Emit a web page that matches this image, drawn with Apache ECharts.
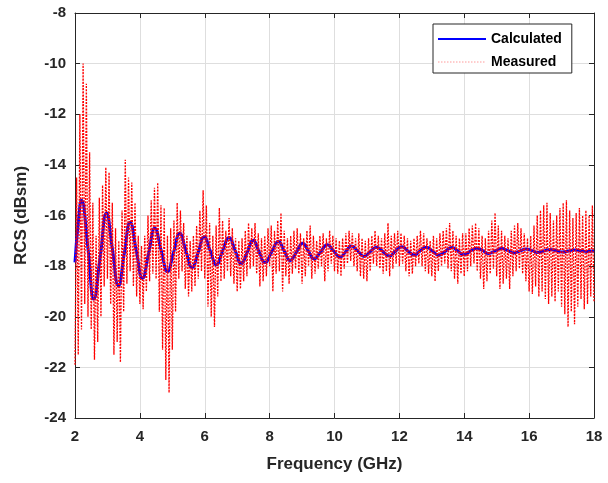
<!DOCTYPE html>
<html>
<head>
<meta charset="utf-8">
<script src="https://cdn.jsdelivr.net/npm/echarts@6/dist/echarts.min.js"></script>
<style>
html,body{margin:0;padding:0;background:#fff;}
#c{width:608px;height:483px;}
</style>
</head>
<body>
<div id="c"></div>
<script>
// Frequency ticks (GHz) and RCS ticks (dBsm)
var xTicks = [2, 4, 6, 8, 10, 12, 14, 16, 18];
var yTicks = [-24, -22, -20, -18, -16, -14, -12, -10, -8];

// Calculated curve: [frequency GHz, RCS dBsm] read at peaks, troughs and mid-slopes
var calcFreq = [2.00, 2.10, 2.20, 2.40, 2.58, 2.78, 2.97, 3.15, 3.34, 3.52, 3.70, 3.89, 4.08, 4.27, 4.46, 4.66, 4.85, 5.04, 5.23, 5.42, 5.61, 5.80, 5.98, 6.17, 6.36, 6.55, 6.75, 6.94, 7.13, 7.31, 7.49, 7.67, 7.86, 8.06, 8.27, 8.45, 8.63, 8.83, 9.02, 9.20, 9.37, 9.57, 9.78, 9.97, 10.17, 10.35, 10.53, 10.72, 10.91, 11.10, 11.30, 11.50, 11.69, 11.88, 12.07, 12.26, 12.45, 12.64, 12.83, 13.03, 13.22, 13.42, 13.62, 13.80, 13.98, 14.18, 14.39, 14.57, 14.75, 14.95, 15.16, 15.35, 15.53, 15.72, 15.90, 16.09, 16.27, 16.46, 16.65, 16.84, 17.03, 17.22, 17.40, 17.59, 17.78, 18.00];
var calcRcs = [-17.85, -16.3, -15.4, -17.3, -19.3, -17.6, -15.9, -17.3, -18.78, -17.5, -16.27, -17.4, -18.48, -17.5, -16.5, -17.4, -18.22, -17.45, -16.7, -17.4, -18.06, -17.45, -16.84, -17.4, -17.95, -17.4, -16.87, -17.4, -17.9, -17.45, -16.98, -17.42, -17.86, -17.45, -17.03, -17.4, -17.78, -17.44, -17.1, -17.42, -17.72, -17.44, -17.16, -17.4, -17.64, -17.42, -17.2, -17.41, -17.62, -17.43, -17.25, -17.43, -17.6, -17.41, -17.23, -17.4, -17.56, -17.4, -17.25, -17.42, -17.57, -17.41, -17.26, -17.4, -17.55, -17.42, -17.29, -17.39, -17.5, -17.4, -17.3, -17.39, -17.48, -17.4, -17.32, -17.39, -17.46, -17.4, -17.34, -17.39, -17.44, -17.4, -17.36, -17.39, -17.42, -17.39];

// Measured curve: sampled every 0.05 GHz from 2.00 GHz
var measStart = 2.0;
var measStep = 0.05;
var measRcs = [
 -21.9, -14.5, -21.5, -12.0, -20.5, -10.0, -19.5, -10.8, -20.0, -13.5, -20.5, -15.5, -21.7, -16.8, -21.0, -15.3, -20.0, -14.8, -18.8, -14.1,
 -18.5, -14.3, -19.5, -15.5, -21.5, -16.5, -21.0, -17.0, -21.8, -15.8, -19.8, -13.8, -18.7, -14.5, -18.2, -14.7, -18.8, -15.5, -19.2, -16.8,
 -19.5, -17.2, -19.7, -16.8, -19.0, -16.0, -18.6, -15.4, -18.3, -14.9, -18.5, -14.7, -19.8, -15.6, -21.3, -15.7, -22.5, -16.8, -23.0, -16.5,
 -21.3, -16.2, -19.8, -15.5, -18.5, -15.8, -18.2, -16.3, -18.9, -16.8, -19.2, -17.0, -19.0, -16.8, -18.8, -16.4, -18.5, -15.8, -18.2, -15.0,
 -18.5, -15.6, -19.6, -16.3, -20.0, -16.8, -20.4, -16.4, -19.2, -15.7, -18.6, -16.2, -18.5, -16.6, -18.2, -16.1, -18.4, -16.5, -18.7, -16.9,
 -19.0, -17.0, -18.9, -16.9, -18.6, -16.6, -18.4, -16.3, -18.1, -16.5, -18.0, -16.3, -18.3, -16.7, -18.8, -16.9, -18.6, -16.8, -18.4, -16.5,
 -18.0, -16.4, -19.0, -16.6, -18.3, -16.2, -18.2, -15.9, -19.0, -16.6, -18.4, -16.9, -18.7, -16.8, -18.3, -16.6, -18.1, -16.5, -18.3, -16.7,
 -18.7, -16.9, -18.4, -16.6, -18.0, -16.4, -18.5, -16.8, -18.3, -17.0, -18.1, -16.8, -18.0, -16.7, -18.6, -16.9, -18.2, -16.6, -17.9, -16.8,
 -18.2, -16.9, -18.3, -17.0, -18.4, -16.9, -18.1, -16.7, -17.9, -16.6, -17.8, -16.7, -18.0, -16.9, -18.2, -16.7, -18.4, -16.9, -18.5, -17.0,
 -18.6, -16.9, -18.2, -16.8, -17.9, -16.6, -18.0, -16.8, -18.1, -16.9, -18.3, -16.7, -18.2, -16.3, -18.4, -16.8, -18.1, -16.7, -17.9, -16.6,
 -18.0, -16.7, -17.9, -16.8, -18.2, -16.9, -18.4, -17.0, -18.3, -16.9, -18.0, -16.8, -17.9, -16.6, -18.0, -16.7, -18.2, -16.9, -18.3, -17.0,
 -18.4, -16.8, -18.6, -16.9, -18.2, -16.7, -18.0, -16.6, -17.9, -16.5, -18.1, -16.3, -18.2, -16.6, -18.5, -16.8, -18.7, -16.9, -18.3, -16.7,
 -18.4, -16.7, -18.2, -16.5, -18.0, -16.4, -17.9, -16.3, -18.2, -16.5, -18.5, -16.8, -18.9, -16.9, -18.6, -16.6, -18.3, -16.2, -18.1, -15.9,
 -18.4, -16.4, -18.9, -16.6, -18.7, -16.8, -18.5, -16.9, -18.9, -16.6, -18.4, -16.4, -18.2, -16.3, -18.1, -16.5, -18.3, -16.7, -18.6, -16.9,
 -19.0, -16.8, -19.1, -16.4, -18.8, -16.0, -19.2, -15.8, -19.0, -15.6, -19.3, -15.5, -19.5, -15.9, -19.2, -16.2, -19.4, -16.0, -19.0, -15.7,
 -19.6, -15.5, -19.9, -15.4, -20.4, -15.8, -19.8, -16.1, -20.3, -15.9, -19.6, -15.7, -19.3, -16.0, -19.7, -15.8, -19.5, -16.0, -19.2, -15.6,
 -19.4
];

var calcData = calcFreq.map(function (f, i) { return [f, calcRcs[i]]; });
var measData = measRcs.map(function (v, i) { return [+(measStart + i * measStep).toFixed(2), v]; });

var txt = '#262626';
var font = 'Liberation Sans, Arial, Helvetica, sans-serif';
var chart = echarts.init(document.getElementById('c'), null, {renderer: 'canvas'});
chart.setOption({
  animation: false,
  backgroundColor: '#ffffff',
  grid: {left: 75, right: 14, top: 13, bottom: 65, containLabel: false},
  legend: {
    orient: 'vertical',
    left: 433, top: 24,
    padding: [8, 10, 4, 4],
    itemWidth: 48, itemHeight: 14, itemGap: 9,
    borderColor: txt, borderWidth: 1, backgroundColor: '#ffffff',
    itemStyle: {opacity: 0},
    textStyle: {fontFamily: font, fontWeight: 'bold', fontSize: 14, color: '#000'},
    data: [
      {name: 'Calculated', itemStyle: {opacity: 0}},
      {name: 'Measured', itemStyle: {opacity: 0}, lineStyle: {color: '#ff9a9a', width: 1, type: [1.5, 1.5]}}
    ]
  },
  xAxis: [{
    type: 'value', min: 2, max: 18, interval: 2, position: 'bottom',
    name: 'Frequency (GHz)', nameLocation: 'middle', nameGap: 38,
    nameTextStyle: {fontFamily: font, fontWeight: 'bold', fontSize: 17, color: txt},
    axisLine: {show: true, onZero: false, lineStyle: {color: txt, width: 1}},
    axisTick: {show: true, inside: true, length: 5, lineStyle: {color: txt}},
    axisLabel: {fontFamily: font, fontWeight: 'bold', fontSize: 15, color: txt, margin: 11},
    splitLine: {show: true, lineStyle: {color: '#dedede', width: 1}}
  }, {
    type: 'value', min: 2, max: 18, interval: 2, position: 'top',
    axisLine: {show: true, onZero: false, lineStyle: {color: txt, width: 1}},
    axisTick: {show: true, inside: true, length: 5, lineStyle: {color: txt}},
    axisLabel: {show: false}, splitLine: {show: false}
  }],
  yAxis: [{
    type: 'value', min: -24, max: -8, interval: 2, position: 'left',
    name: 'RCS (dBsm)', nameLocation: 'middle', nameGap: 45,
    nameTextStyle: {fontFamily: font, fontWeight: 'bold', fontSize: 17, color: txt},
    axisLine: {show: true, onZero: false, lineStyle: {color: txt, width: 1}},
    axisTick: {show: true, inside: true, length: 5, lineStyle: {color: txt}},
    axisLabel: {fontFamily: font, fontWeight: 'bold', fontSize: 15, color: txt, margin: 9},
    splitLine: {show: true, lineStyle: {color: '#dedede', width: 1}}
  }, {
    type: 'value', min: -24, max: -8, interval: 2, position: 'right',
    axisLine: {show: true, onZero: false, lineStyle: {color: txt, width: 1}},
    axisTick: {show: true, inside: true, length: 5, lineStyle: {color: txt}},
    axisLabel: {show: false}, splitLine: {show: false}
  }],
  series: [{
    name: 'Calculated', type: 'line', data: calcData,
    smooth: 0.5, showSymbol: false, symbol: 'none',
    lineStyle: {color: '#0000ff', width: 3}, itemStyle: {color: '#0000ff'}, z: 3
  }, {
    name: 'Measured', type: 'line', data: measData,
    showSymbol: false, symbol: 'none',
    lineStyle: {color: '#ff0000', width: 1.3, type: [2, 1.2]}, itemStyle: {color: '#ff0000'}, z: 4
  }]
});
</script>
</body>
</html>
